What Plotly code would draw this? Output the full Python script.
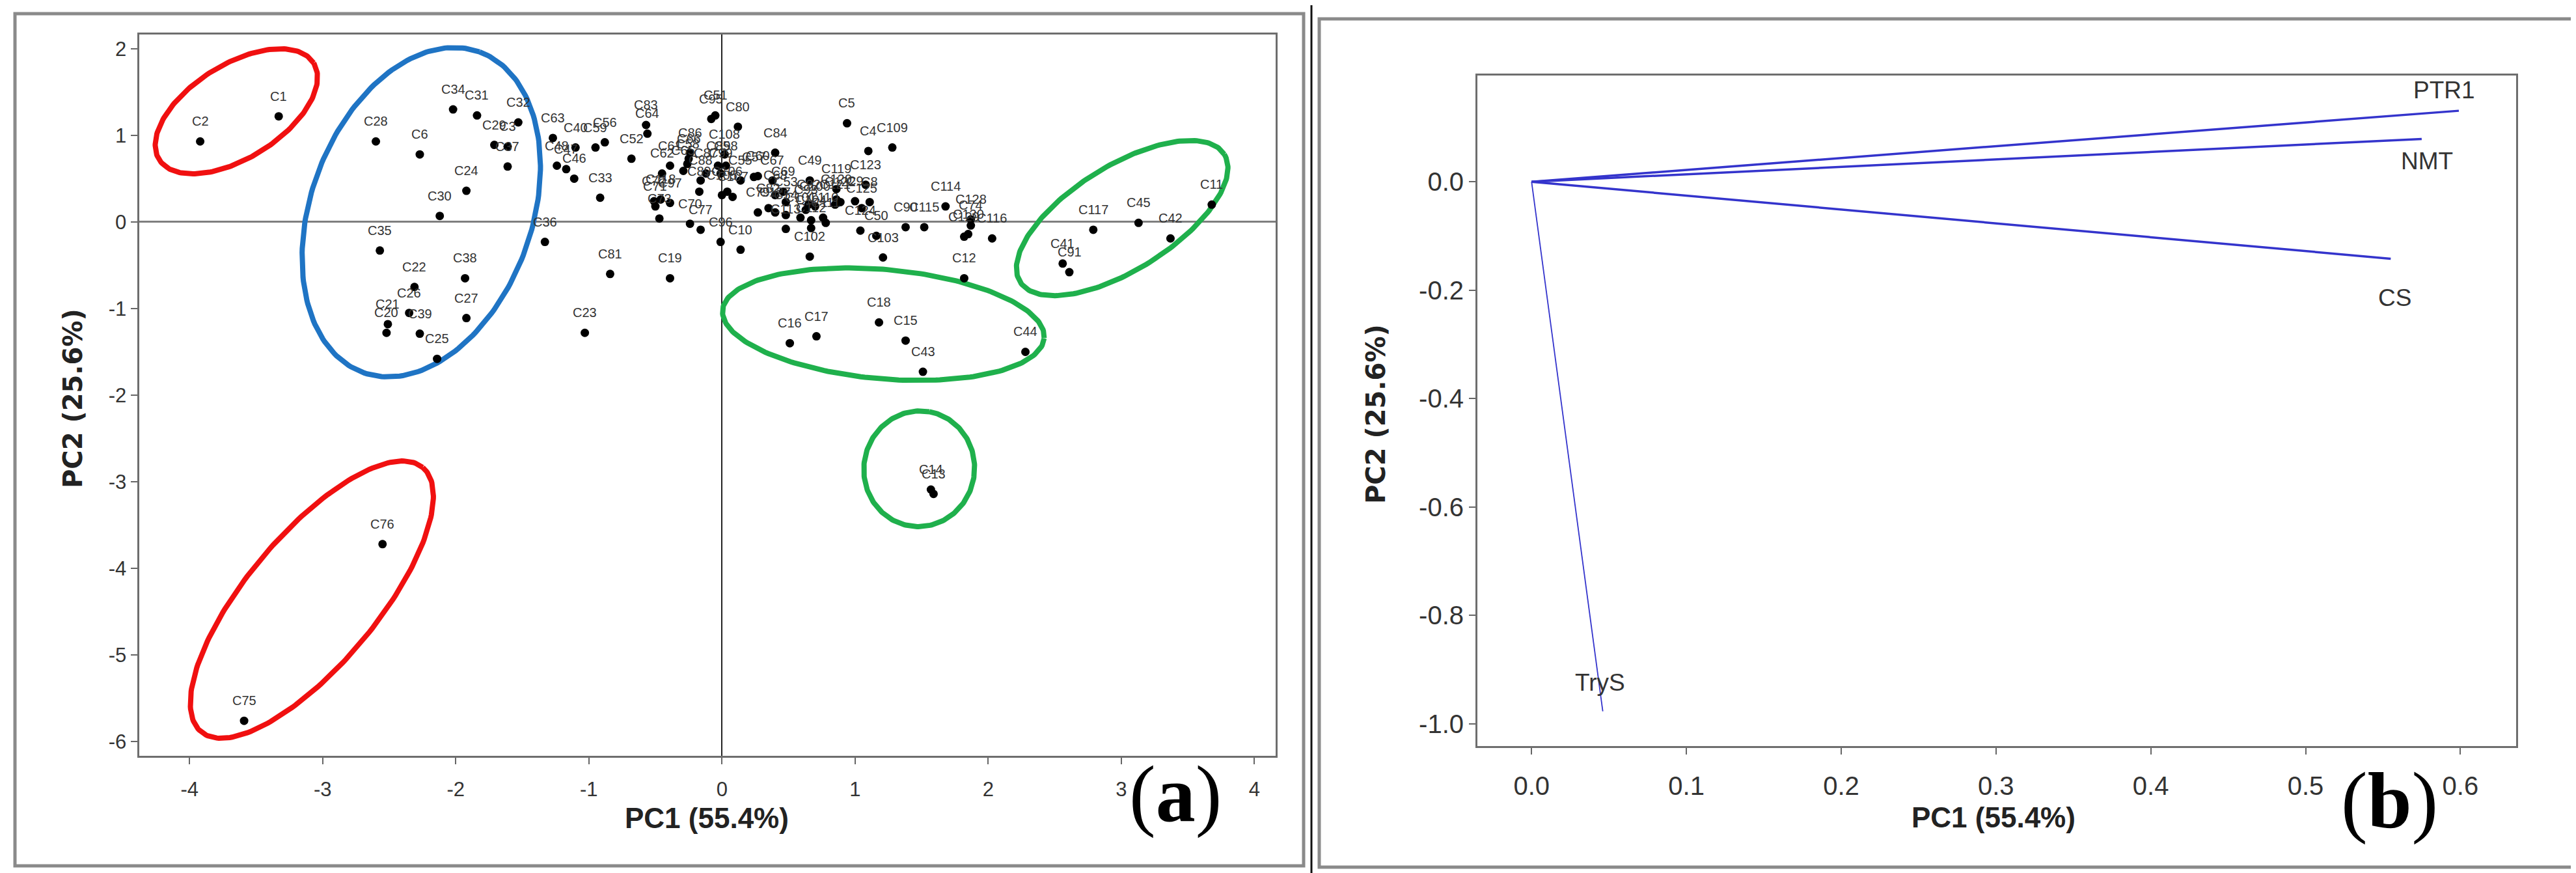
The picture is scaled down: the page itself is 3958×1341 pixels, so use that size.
import numpy as np
import plotly.graph_objects as go

W, H = 3958, 1341

# --- (a) PCA score plot: cultivar labels and PC scores ---
labels = [
    "C1", "C2", "C28", "C6", "C34", "C31", "C29", "C3", "C32", "C37",
    "C24", "C30", "C35", "C22", "C38", "C26", "C21", "C20", "C39", "C27",
    "C25", "C23", "C36", "C81", "C19", "C76", "C75", "C63", "C40", "C48",
    "C47", "C46", "C59", "C56", "C33", "C52", "C83", "C64", "C61", "C62",
    "C65", "C71", "C72", "C73", "C118", "C97", "C70", "C77", "C96", "C86",
    "C66", "C58", "C87", "C88", "C89", "C95", "C51", "C108", "C85", "C98",
    "C99", "C105", "C106", "C107", "C80", "C55", "C57", "C60", "C84", "C67",
    "C68", "C69", "C53", "C54", "C79", "C82", "C127", "C49", "C92", "C93",
    "C100", "C101", "C104", "C110", "C111", "C112", "C113", "C102", "C119", "C120",
    "C121", "C122", "C9", "C123", "C8", "C125", "C124", "C50", "C103", "C4",
    "C109", "C5", "C90", "C115", "C114", "C74", "C128", "C129", "C130", "C116",
    "C12", "C10", "C16", "C17", "C18", "C15", "C43", "C44", "C117", "C45",
    "C42", "C11", "C41", "C91", "C14", "C13",
]
pc1 = [
    -3.33, -3.92, -2.60, -2.27, -2.02, -1.84, -1.71, -1.61, -1.53, -1.61,
    -1.92, -2.12, -2.57, -2.31, -1.93, -2.35, -2.51, -2.52, -2.27, -1.92,
    -2.14, -1.03, -1.33, -0.84, -0.39, -2.55, -3.59, -1.27, -1.10, -1.24,
    -1.17, -1.11, -0.95, -0.88, -0.915, -0.68, -0.57, -0.56, -0.39, -0.45,
    -0.29, -0.50, -0.51, -0.47, -0.46, -0.39, -0.24, -0.16, -0.01, -0.24,
    -0.25, -0.26, -0.12, -0.16, -0.17, -0.08, -0.05, 0.02, -0.03, 0.03,
    -0.01, 0.00, 0.04, 0.08, 0.12, 0.14, 0.24, 0.27, 0.40, 0.38,
    0.40, 0.46, 0.48, 0.48, 0.27, 0.35, 0.40, 0.66, 0.65, 0.63,
    0.70, 0.59, 0.67, 0.76, 0.78, 0.67, 0.48, 0.66, 0.86, 0.86,
    0.85, 0.89, 1.00, 1.08, 1.11, 1.05, 1.04, 1.16, 1.21, 1.10,
    1.28, 0.94, 1.38, 1.52, 1.68, 1.87, 1.87, 1.82, 1.85, 2.03,
    1.82, 0.14, 0.51, 0.71, 1.18, 1.38, 1.51, 2.28, 2.79, 3.13,
    3.37, 3.68, 2.56, 2.61, 1.57, 1.59,
]
pc2 = [
    1.22, 0.93, 0.93, 0.78, 1.30, 1.23, 0.89, 0.87, 1.15, 0.64,
    0.36, 0.07, -0.33, -0.75, -0.65, -1.05, -1.18, -1.28, -1.29, -1.11,
    -1.58, -1.28, -0.23, -0.60, -0.65, -3.72, -5.76, 0.97, 0.86, 0.65,
    0.61, 0.50, 0.86, 0.92, 0.28, 0.73, 1.12, 1.02, 0.65, 0.56,
    0.59, 0.18, 0.24, 0.04, 0.26, 0.22, -0.02, -0.09, -0.23, 0.80,
    0.73, 0.67, 0.56, 0.48, 0.35, 1.19, 1.23, 0.78, 0.65, 0.65,
    0.56, 0.31, 0.35, 0.29, 1.10, 0.48, 0.52, 0.53, 0.80, 0.48,
    0.31, 0.35, 0.23, 0.08, 0.11, 0.16, 0.11, 0.48, 0.20, 0.14,
    0.18, 0.05, 0.02, 0.05, -0.01, -0.07, -0.08, -0.40, 0.38, 0.26,
    0.20, 0.23, 0.24, 0.43, 0.23, 0.16, -0.10, -0.16, -0.41, 0.82,
    0.86, 1.14, -0.06, -0.06, 0.18, -0.04, 0.03, -0.17, -0.14, -0.19,
    -0.65, -0.32, -1.40, -1.32, -1.16, -1.37, -1.73, -1.50, -0.09, -0.01,
    -0.19, 0.20, -0.48, -0.58, -3.09, -3.14,
]

# group outlines drawn on (a): centre in data units, semi-axes in px, tilt in degrees
ellipses = [
    (-3.648, 1.278, 140, 72, 32, "#f01010"),
    (-2.259, 0.113, 262, 170, 70, "#1f74c4"),
    (-3.081, -4.361, 265, 100, 50, "#f01010"),
    (1.213, -1.180, 248, 84, -5, "#1fb04c"),
    (3.007, 0.045, 185, 80, 32, "#1fb04c"),
    (1.482, -2.850, 89, 85, 80, "#1fb04c"),
]

# --- (b) loading plot ---
load_names = ["PTR1", "NMT", "CS", "TryS"]
load_pc1 = [0.599, 0.575, 0.555, 0.046]
load_pc2 = [0.131, 0.079, -0.142, -0.977]
load_dy = [32, -34, -60, 44]
load_dx = [-22, 8, 6, -4]
load_width = [3.5, 3.5, 3.5, 1.8]

a_xticks = [-4, -3, -2, -1, 0, 1, 2, 3, 4]
a_yticks = [-6, -5, -4, -3, -2, -1, 0, 1, 2]
b_xticks = [0.0, 0.1, 0.2, 0.3, 0.4, 0.5, 0.6]
b_yticks = [-1.0, -0.8, -0.6, -0.4, -0.2, 0.0]

a_xrange, a_yrange = [-4.38, 4.16], [-6.165, 2.165]
b_xrange, b_yrange = [-0.035, 0.636], [-1.041, 0.196]
a_xdom, a_ydom = [205.5 / W, 1952 / W], [(H - 1153) / H, (H - 45) / H]
b_xdom, b_ydom = [2262 / W, 3858 / W], [(H - 1138) / H, (H - 108) / H]

NARROW = "Liberation Sans Narrow, Liberation Sans, Arial, sans-serif"
SANS = "Liberation Sans, Arial, sans-serif"
WIDE = "DejaVu Sans, Verdana, sans-serif"
SERIF = "Liberation Serif, Times New Roman, serif"

fig = go.Figure()

# ellipses, converted from pixel geometry to data units
sx = W * (a_xdom[1] - a_xdom[0]) / (a_xrange[1] - a_xrange[0])
sy = H * (a_ydom[1] - a_ydom[0]) / (a_yrange[1] - a_yrange[0])
t = np.linspace(0, 2 * np.pi, 240)
for cx, cy, a, b, ang, col in ellipses:
    th = np.radians(ang)
    ex = cx + (a * np.cos(th) * np.cos(t) - b * np.sin(th) * np.sin(t)) / sx
    ey = cy + (a * np.sin(th) * np.cos(t) + b * np.cos(th) * np.sin(t)) / sy
    fig.add_trace(go.Scatter(x=ex, y=ey, mode="lines", line=dict(color=col, width=8),
                             hoverinfo="skip", showlegend=False, xaxis="x", yaxis="y"))

fig.add_trace(go.Scatter(
    x=pc1, y=pc2, mode="markers", text=labels,
    marker=dict(color="black", size=13),
    showlegend=False, xaxis="x", yaxis="y"))

for name, px_, py_ in zip(labels, pc1, pc2):
    fig.add_annotation(x=px_, y=py_, xref="x", yref="y", text=name, showarrow=False,
                       yshift=31, font=dict(family=SANS, size=20, color="#333333"))

# loading vectors
for name, lx, ly, lw in zip(load_names, load_pc1, load_pc2, load_width):
    fig.add_trace(go.Scatter(x=[0, lx], y=[0, ly], mode="lines",
                             line=dict(color="#3434cc", width=lw),
                             showlegend=False, xaxis="x2", yaxis="y2"))
for name, lx, ly, dx, dy in zip(load_names, load_pc1, load_pc2, load_dx, load_dy):
    fig.add_annotation(x=lx, y=ly, xref="x2", yref="y2", text=name, showarrow=False,
                       yshift=dy, xshift=dx, font=dict(family=SANS, size=37, color="#333333"))

axis_common = dict(showgrid=False, ticks="outside", ticklen=10, tickwidth=2,
                   tickcolor="#666666", showline=True, linecolor="#6e6e6e",
                   linewidth=3, mirror=True)

fig.update_layout(
    width=W, height=H,
    margin=dict(l=0, r=0, t=0, b=0),
    paper_bgcolor="white", plot_bgcolor="white",
    xaxis=dict(domain=a_xdom, range=a_xrange, tickvals=a_xticks,
               ticktext=[f"{v:g}" for v in a_xticks], anchor="y",
               zeroline=True, zerolinecolor="#222222", zerolinewidth=2,
               ticklabelstandoff=12,
               tickfont=dict(family=NARROW, size=31, color="#333333"), **axis_common),
    yaxis=dict(domain=a_ydom, range=a_yrange, tickvals=a_yticks,
               ticktext=[f"{v:g}" for v in a_yticks], anchor="x",
               zeroline=True, zerolinecolor="#7f7f7f", zerolinewidth=3,
               tickfont=dict(family=NARROW, size=31, color="#333333"), **axis_common),
    xaxis2=dict(domain=b_xdom, range=b_xrange, tickvals=b_xticks,
                ticktext=[f"{v:.1f}" for v in b_xticks], anchor="y2",
                zeroline=False, ticklabelstandoff=14,
                tickfont=dict(family=NARROW, size=40, color="#333333"), **axis_common),
    yaxis2=dict(domain=b_ydom, range=b_yrange, tickvals=b_yticks,
                ticktext=[f"{v:.1f}" for v in b_yticks], anchor="x2",
                zeroline=False,
                tickfont=dict(family=NARROW, size=40, color="#333333"), **axis_common),
)

# panel frames and the divider between them
fig.add_shape(type="rect", xref="paper", yref="paper",
              x0=15 / W, x1=1995 / W, y0=(H - 1322) / H, y1=(H - 13) / H,
              line=dict(color="#8a8a8a", width=5))
fig.add_shape(type="rect", xref="paper", yref="paper",
              x0=2019 / W, x1=3953 / W, y0=(H - 1324) / H, y1=(H - 21) / H,
              line=dict(color="#8a8a8a", width=5))
fig.add_shape(type="line", xref="paper", yref="paper",
              x0=2007 / W, x1=2007 / W, y0=0, y1=1,
              line=dict(color="#111111", width=3))

titles = [
    ("PC1 (55.4%)", 1078, 1248, 0, SANS, 44),
    ("PC2 (25.6%)", 104, 604, -90, WIDE, 40),
    ("PC1 (55.4%)", 3055, 1247, 0, SANS, 44),
    ("PC2 (25.6%)", 2106, 628, -90, WIDE, 40),
]
for txt, tx, ty, rot, fam, sz in titles:
    fig.add_annotation(x=tx / W, y=1 - ty / H, xref="paper", yref="paper", text=f"<b>{txt}</b>",
                       showarrow=False, textangle=rot, xanchor="center", yanchor="middle",
                       font=dict(family=fam, size=sz, color="#222222"))

# panel letters: thin parentheses around a bold letter
for letter, tx, ty in [("a", 1798, 1212), ("b", 3663, 1222)]:
    fig.add_annotation(x=tx / W, y=1 - ty / H, xref="paper", yref="paper",
                       text=f"(<b>{letter}</b>)",
                       showarrow=False, xanchor="center", yanchor="middle",
                       font=dict(family=SERIF, size=122, color="black"))

fig.write_html("out.html")
